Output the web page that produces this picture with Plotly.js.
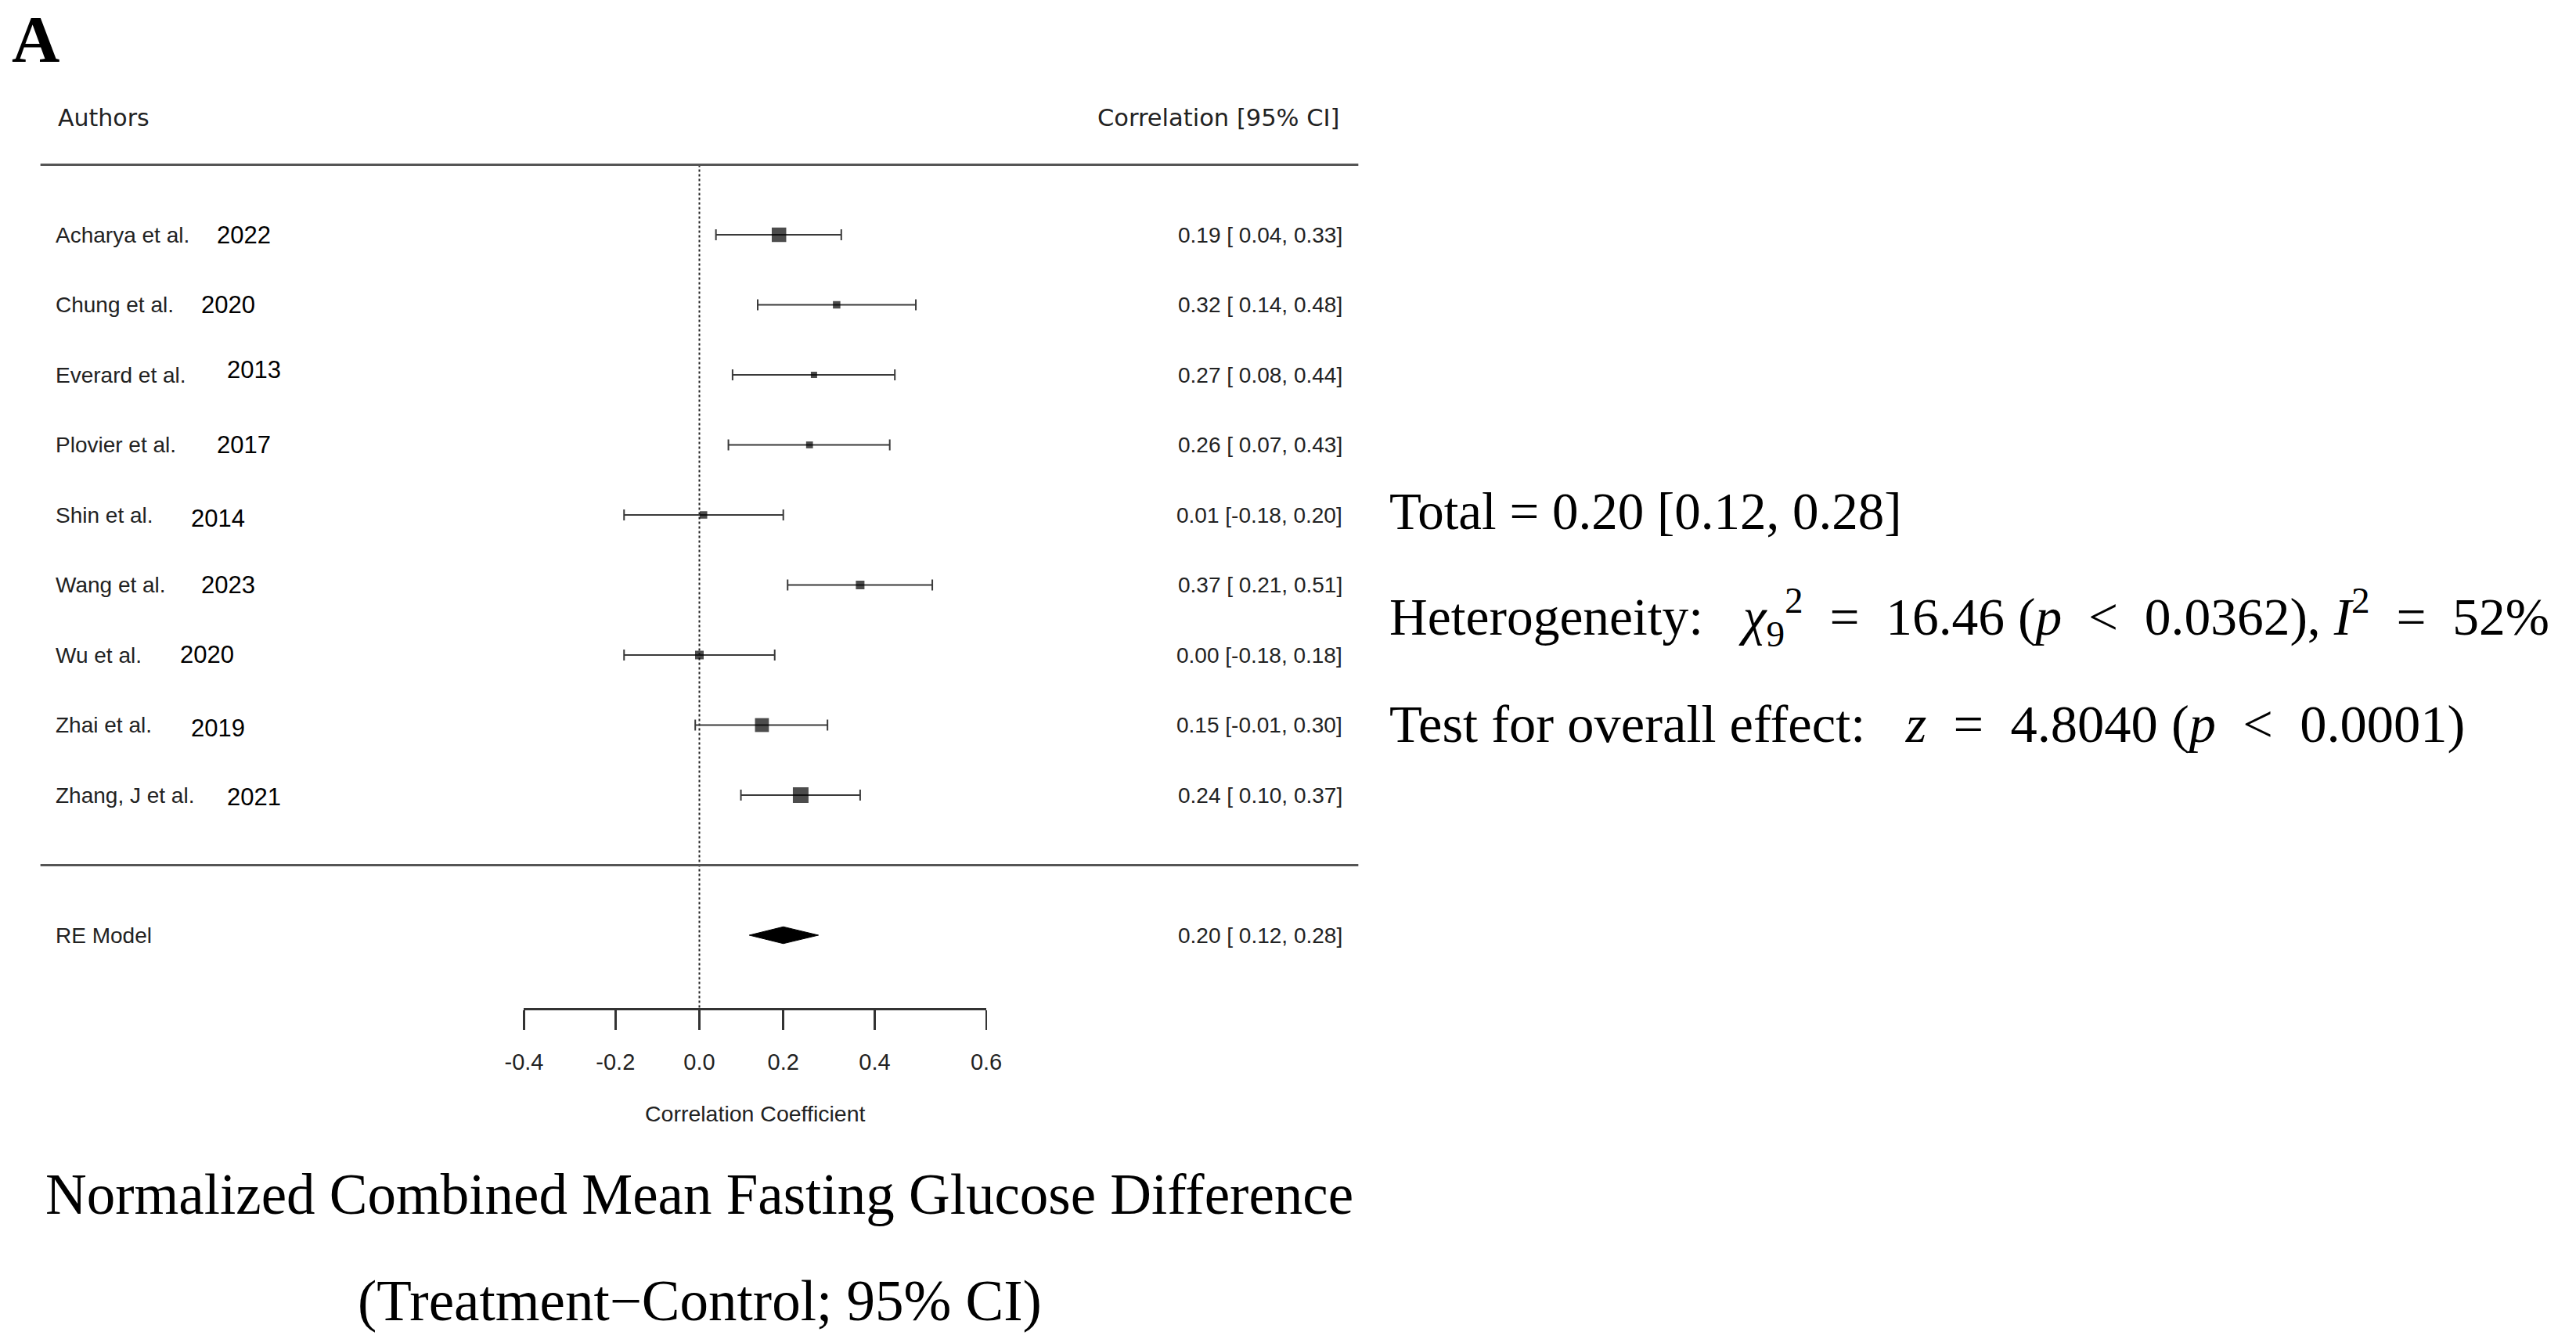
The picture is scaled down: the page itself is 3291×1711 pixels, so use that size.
<!DOCTYPE html>
<html><head><meta charset="utf-8">
<script src="https://cdn.plot.ly/plotly-3.0.1.min.js"></script>
<style>html,body{margin:0;padding:0;background:#fff}</style>
</head><body>
<div id="chart" style="width:3291px;height:1711px"></div>
<script>
// ---------------- data ----------------
const authors = ["Acharya et al.","Chung et al.","Everard et al.","Plovier et al.","Shin et al.","Wang et al.","Wu et al.","Zhai et al.","Zhang, J et al."];
const years = ["2022","2020","2013","2017","2014","2023","2020","2019","2021"];
const estimate = [0.19,0.32,0.27,0.26,0.01,0.37,0.00,0.15,0.24];
const ciLower  = [0.04,0.14,0.08,0.07,-0.18,0.21,-0.18,-0.01,0.10];
const ciUpper  = [0.33,0.48,0.44,0.43,0.20,0.51,0.18,0.30,0.37];
const weights  = [15,9,8,8.5,9,10,10,14.5,16];   // estimated relative weights (%)
const pooledLabel = "RE Model";
const pooledEst = 0.20, pooledLo = 0.12, pooledHi = 0.28;
const axisTicks = [-0.4,-0.2,0.0,0.2,0.4,0.6];
const axisTickLabels = ["-0.4","-0.2","0.0","0.2","0.4","0.6"];
const headerLeft = "Authors", headerRight = "Correlation [95% CI]";
const xTitle = "Correlation Coefficient";
const ES = "\u2002";  // wider math spacing around operators
const statsLines = [
  "Total = 0.20 [0.12, 0.28]",
  "Heterogeneity:\u00a0\u00a0\u00a0<i>χ</i><sub>9</sub><sup>2</sup>" + ES + "=" + ES + "16.46 (<i>p</i>" + ES + "&lt;" + ES + "0.0362), <i>I</i><sup>2</sup>" + ES + "=" + ES + "52%",
  "Test for overall effect:\u00a0\u00a0\u00a0<i>z</i>" + ES + "=" + ES + "4.8040 (<i>p</i>" + ES + "&lt;" + ES + "0.0001)"
];
const statsSizes = [67, 67.5, 68.5];
const titleLines = ["Normalized Combined Mean Fasting Glucose Difference","(Treatment\u2212Control; 95% CI)"];
const panelLabel = "A";

// ---------------- layout geometry ----------------
const W = 3291, H = 1711;
const Z0PX = 893.5, PXPERZ = 528.8;          // pixel of z=0 and px per Fisher-z unit
const xmin = -Z0PX / PXPERZ, xmax = (W - Z0PX) / PXPERZ;
const k = authors.length;
const ROWTOPPX = 300, ROWPX = 89.5;          // pixel of first study row, row spacing
const ytop = k + ROWTOPPX / ROWPX;
const ybot = k - (H - ROWTOPPX) / ROWPX;
const XLIM = 1.592;
const AXISPX = 1289;
const axisRow = k - (AXISPX - ROWTOPPX) / ROWPX;
const pY = px => 1 - px / H;
const pX = px => px / W;
const zPaper = z => (z - xmin) / (xmax - xmin);
const fz = r => Math.atanh(r);
// irregular year placement (pixels) as in the original figure
const yearXpx = [275,255,288,275,242,255,228,242,288];
const yearDy  = [0,0,-7,0,4,0,-1,4,2];

const rows = authors.map((_, i) => k - i);
const wmin = Math.min(...weights), wmax = Math.max(...weights);
const msize = weights.map(w => 12 * (0.5 + (w - wmin) / (wmax - wmin)) + 2);

const SANS = "Liberation Sans, Arial, sans-serif";
const SERIF = "Liberation Serif, Times New Roman, serif";

const traces = [
  { x:[0,0], y:[k+1, axisRow], mode:'lines', line:{color:'#222', width:2, dash:'3px,3px'}, hoverinfo:'skip', showlegend:false },
  { x: estimate.map(fz), y: rows, mode:'markers', hoverinfo:'skip', showlegend:false,
    marker:{symbol:'square', size: msize, color:'#000', line:{width:0}},
    error_x:{type:'data', symmetric:false,
      array: ciUpper.map((u,i) => fz(u) - fz(estimate[i])),
      arrayminus: ciLower.map((l,i) => fz(estimate[i]) - fz(l)),
      color:'#3a3a3a', thickness:2, width:7} },
  { x:[fz(pooledLo), fz(pooledEst), fz(pooledHi), fz(pooledEst), fz(pooledLo)],
    y:[-1, -1+0.12, -1, -1-0.12, -1], mode:'lines', fill:'toself', fillcolor:'#000',
    line:{color:'#000', width:1}, hoverinfo:'skip', showlegend:false },
  { x:[fz(axisTicks[0])], y:[axisRow], xaxis:'x2', yaxis:'y', mode:'markers', marker:{opacity:0}, hoverinfo:'skip', showlegend:false }
];

const ann = [];
const txt = (o) => ann.push(Object.assign({showarrow:false}, o));
const fmt = v => (v < 0 ? '' : ' ') + v.toFixed(2);
txt({text:panelLabel, xref:'paper', yref:'paper', x:pX(13), y:pY(50), xanchor:'left', yanchor:'middle',
     font:{family:SERIF, size:85, color:'#000', weight:700}});
txt({text:headerLeft, xref:'x', yref:'paper', x:-XLIM, xshift:20, y:pY(151), xanchor:'left', yanchor:'middle',
     font:{family:"DejaVu Sans, sans-serif", size:30, color:'#222'}});
txt({text:headerRight, xref:'x', yref:'paper', x:XLIM, xshift:-22, y:pY(151), xanchor:'right', yanchor:'middle',
     font:{family:"DejaVu Sans, sans-serif", size:30.5, color:'#222'}});
authors.forEach((a, i) => {
  txt({text:a, xref:'x', yref:'y', x:-XLIM, xshift:17, y:rows[i], xanchor:'left', yanchor:'middle',
       font:{family:SANS, size:28, color:'#222'}});
  txt({text:years[i], xref:'paper', yref:'y', x:pX(yearXpx[i]), y:rows[i], yshift:-yearDy[i], xanchor:'left', yanchor:'middle',
       font:{family:SANS, size:31, color:'#000'}});
  txt({text: estimate[i].toFixed(2) + ' [' + fmt(ciLower[i]) + ', ' + ciUpper[i].toFixed(2) + ']',
       xref:'x', yref:'y', x:XLIM, xshift:-18, y:rows[i], xanchor:'right', yanchor:'middle',
       font:{family:SANS, size:28, color:'#222'}});
});
txt({text:pooledLabel, xref:'x', yref:'y', x:-XLIM, xshift:17, y:-1, xanchor:'left', yanchor:'middle',
     font:{family:SANS, size:28, color:'#222'}});
txt({text: pooledEst.toFixed(2) + ' [' + fmt(pooledLo) + ', ' + pooledHi.toFixed(2) + ']',
     xref:'x', yref:'y', x:XLIM, xshift:-18, y:-1, xanchor:'right', yanchor:'middle',
     font:{family:SANS, size:28, color:'#222'}});
const statsPx = [653, 789, 925];
statsLines.forEach((s, i) => txt({text:s, xref:'paper', yref:'paper', x:pX(1773), y:pY(statsPx[i]),
     xanchor:'left', yanchor:'middle', font:{family:SERIF, size:statsSizes[i], color:'#000'}}));
const titlePx = [1526, 1662];
titleLines.forEach((s, i) => txt({text:s, xref:'paper', yref:'paper', x:pX(Z0PX), y:pY(titlePx[i]),
     xanchor:'center', yanchor:'middle', font:{family:SERIF, size:73, color:'#000'}}));

const layout = {
  width:W, height:H, margin:{l:0,r:0,t:0,b:0}, paper_bgcolor:'#fff', plot_bgcolor:'rgba(0,0,0,0)',
  showlegend:false,
  xaxis:{range:[xmin, xmax], visible:false, fixedrange:true},
  yaxis:{range:[ybot, ytop], visible:false, fixedrange:true},
  xaxis2:{anchor:'free', position:pY(AXISPX), domain:[zPaper(fz(axisTicks[0])), zPaper(fz(axisTicks[axisTicks.length-1]))],
    range:[fz(axisTicks[0]), fz(axisTicks[axisTicks.length-1])], tickmode:'array',
    tickvals:axisTicks.map(fz), ticktext:axisTickLabels, ticks:'outside', ticklen:25, tickwidth:2.5, tickcolor:'#333',
    showline:true, linecolor:'#333', linewidth:2.5, showgrid:false, zeroline:false, side:'bottom',
    ticklabelstandoff:17, tickfont:{family:SANS, size:29, color:'#222'},
    title:{text:xTitle, font:{family:SANS, size:28.5, color:'#222'}, standoff:40}, fixedrange:true},
  shapes:[
    {type:'line', xref:'x', yref:'y', x0:-XLIM, x1:XLIM, y0:k+1, y1:k+1, line:{color:'#555', width:3}},
    {type:'line', xref:'x', yref:'y', x0:-XLIM, x1:XLIM, y0:0, y1:0, line:{color:'#555', width:3}}
  ],
  annotations: ann
};
Plotly.newPlot('chart', traces, layout, {staticPlot:true, displayModeBar:false});
</script>
</body></html>
